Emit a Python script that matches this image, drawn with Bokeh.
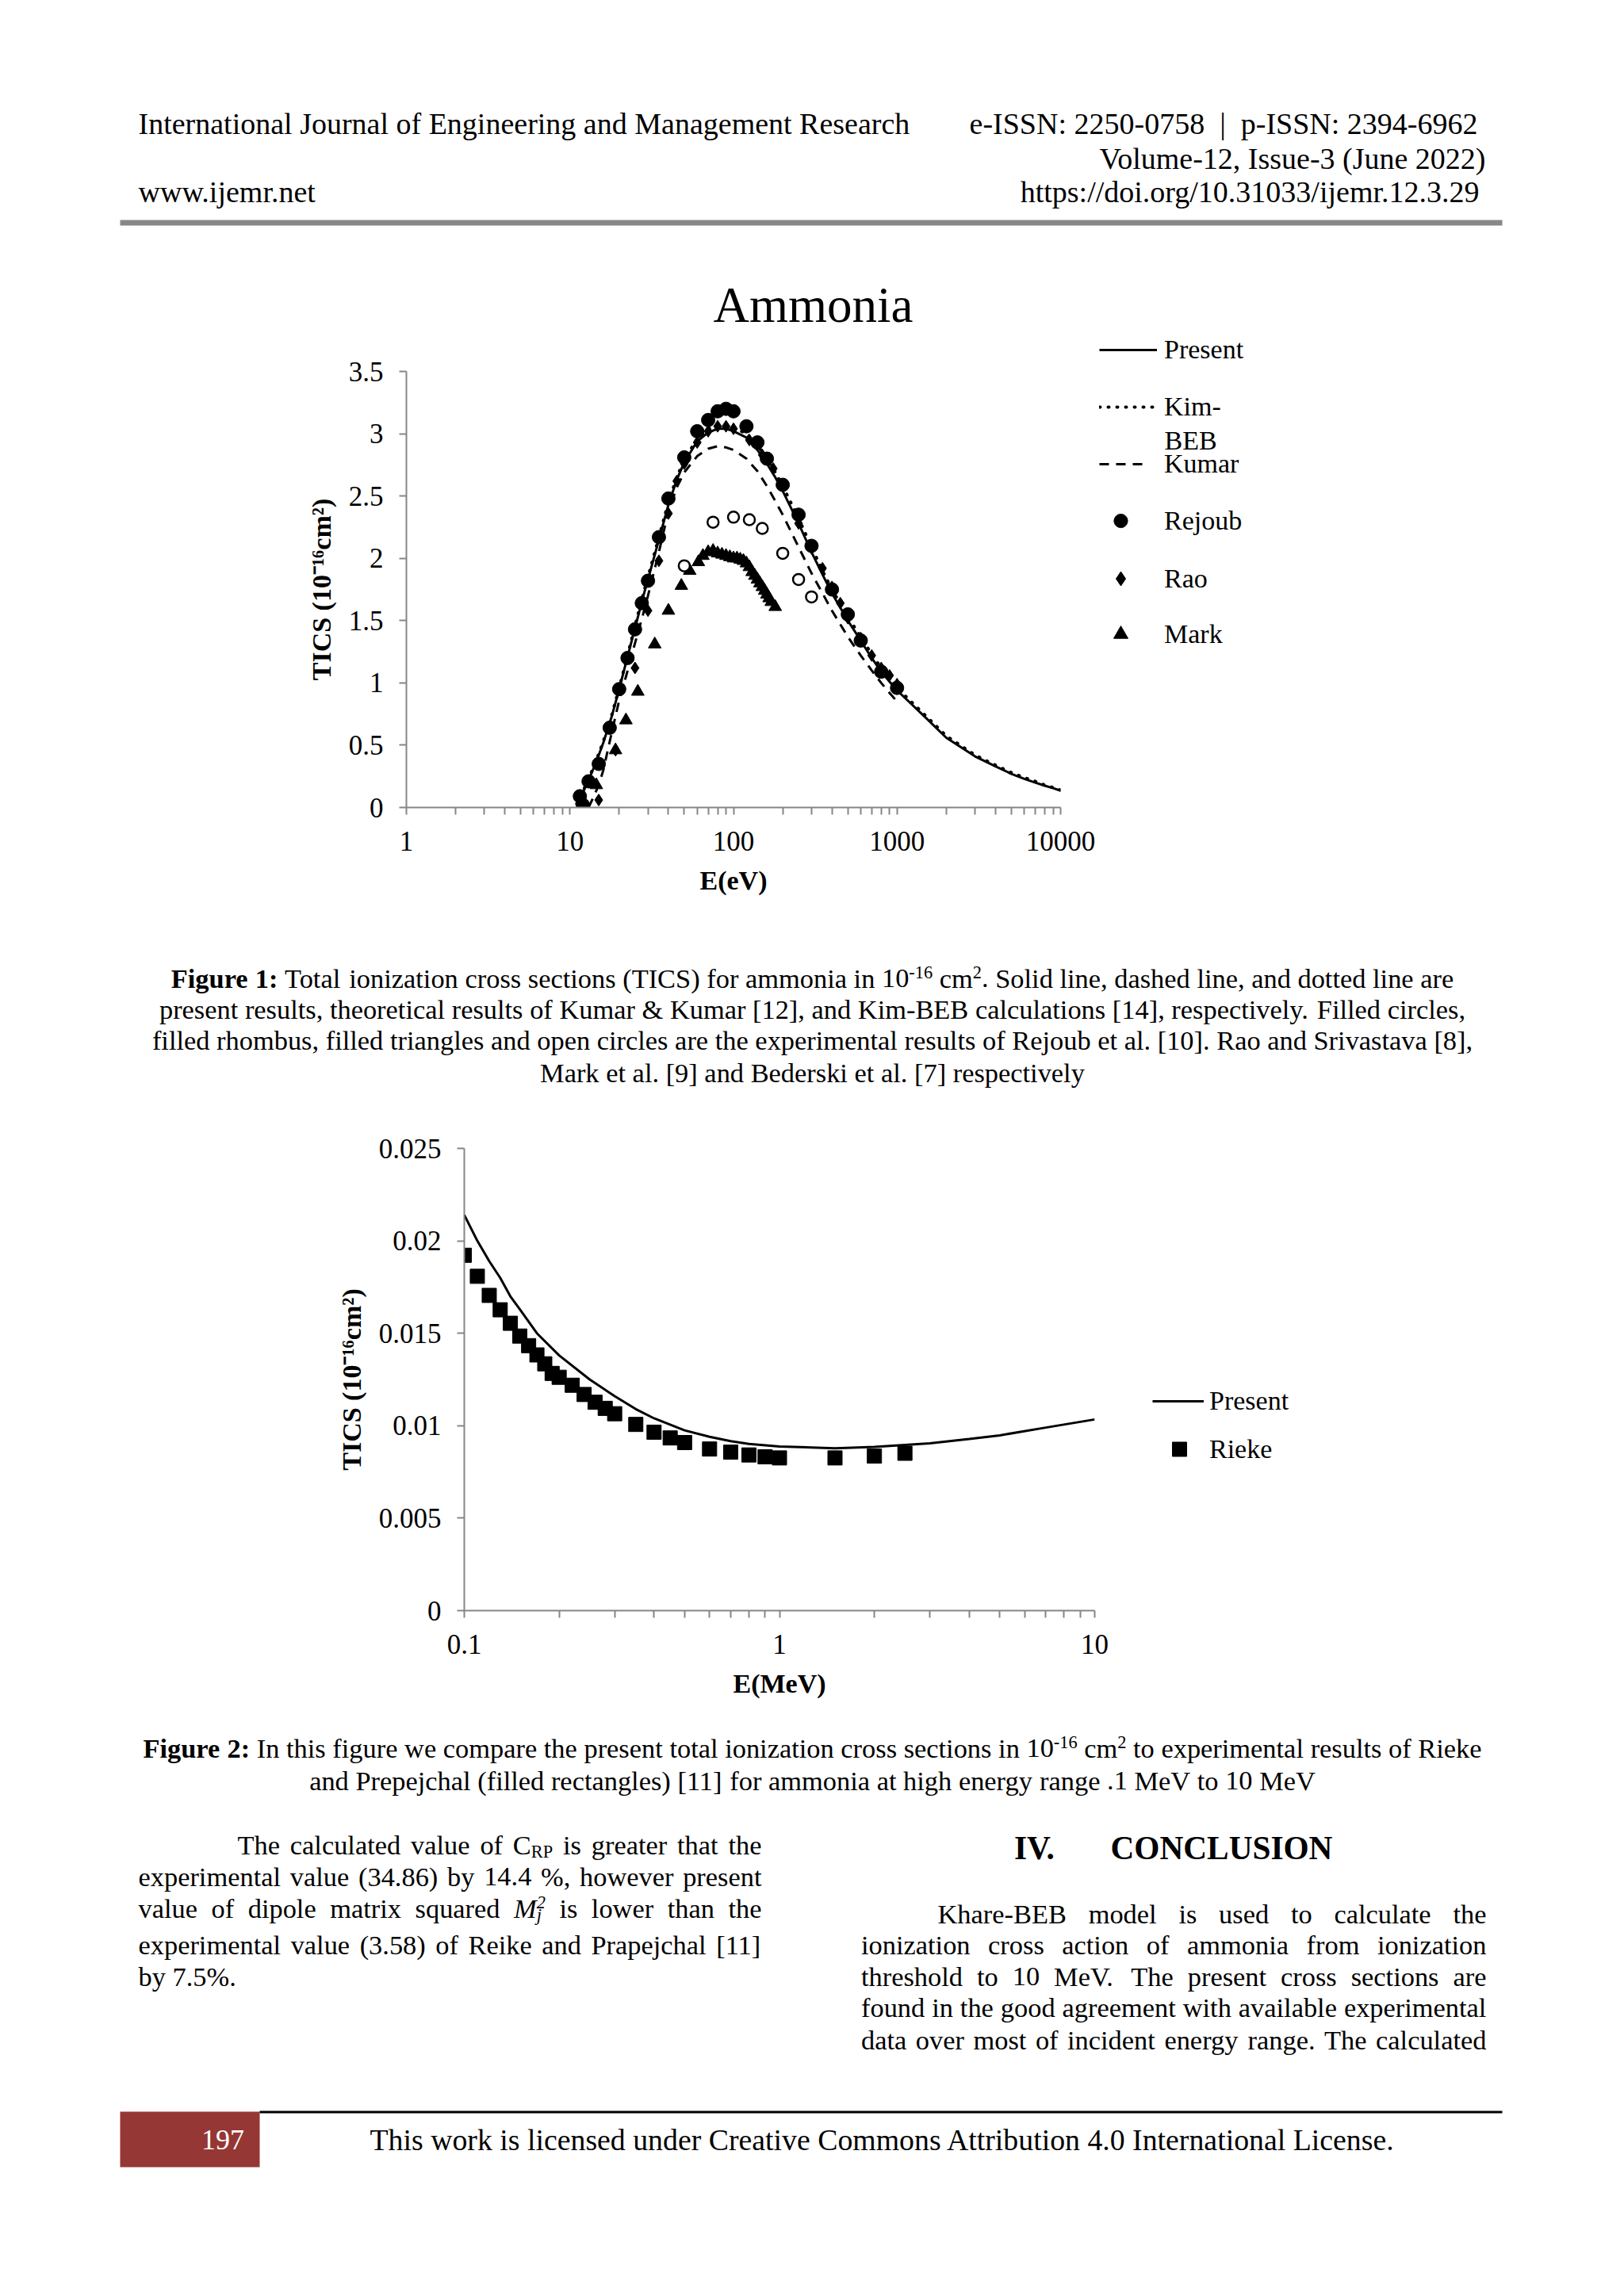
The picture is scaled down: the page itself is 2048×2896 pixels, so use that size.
from bokeh.plotting import figure
from bokeh.models import Range1d, FixedTicker, CustomJSTickFormatter, Legend, LegendItem
from bokeh.layouts import column, row
from bokeh.embed import file_html
from bokeh.resources import INLINE
from bokeh.core.properties import value

# ======================= chart data =======================
# Figure 1 : TICS of ammonia, E in eV
present_e = [11, 12, 13, 14, 15, 16, 18, 20, 22, 25, 28, 30, 35, 40, 45, 50, 60, 70, 80, 90, 100,
             120, 140, 160, 180, 200, 250, 300, 350, 400, 500, 600, 700, 800, 900, 1000,
             1500, 2000, 3000, 4000, 5000, 6000, 7000, 8000, 9000, 10000]
present_tics = [0.03, 0.12, 0.22, 0.32, 0.42, 0.52, 0.73, 0.95, 1.16, 1.44, 1.69, 1.83, 2.15, 2.43,
                2.63, 2.77, 2.94, 3.01, 3.04, 3.04, 3.02, 2.97, 2.87, 2.76, 2.65, 2.54, 2.28, 2.05,
                1.87, 1.72, 1.50, 1.34, 1.20, 1.09, 1.01, 0.94, 0.72, 0.56, 0.41, 0.33, 0.27, 0.23,
                0.20, 0.175, 0.155, 0.135]
kimbeb_e = present_e
kimbeb_tics = [0.03, 0.13, 0.23, 0.33, 0.43, 0.53, 0.74, 0.96, 1.17, 1.46, 1.71, 1.85, 2.17, 2.45,
               2.65, 2.79, 2.96, 3.04, 3.07, 3.07, 3.05, 3.00, 2.91, 2.80, 2.69, 2.58, 2.32, 2.09,
               1.90, 1.75, 1.53, 1.37, 1.23, 1.12, 1.03, 0.96, 0.735, 0.575, 0.42, 0.34, 0.28, 0.24,
               0.21, 0.18, 0.16, 0.14]
kumar_e = [13, 14, 15, 16, 18, 20, 22, 25, 28, 30, 35, 40, 45, 50, 60, 70, 80, 90, 100, 120, 140,
           160, 180, 200, 250, 300, 350, 400, 500, 600, 700, 800, 900, 1000]
kumar_tics = [0.0, 0.09, 0.18, 0.30, 0.60, 0.86, 1.05, 1.32, 1.55, 1.70, 2.05, 2.38, 2.57, 2.69,
              2.82, 2.88, 2.90, 2.89, 2.87, 2.80, 2.70, 2.58, 2.46, 2.35, 2.09, 1.88, 1.72, 1.58,
              1.37, 1.22, 1.10, 1.00, 0.92, 0.85]
rejoub_e = [11.5, 12, 13, 15, 17.5, 20, 22.5, 25, 27.5, 30, 35, 40, 50, 60, 70, 80, 90, 100, 120,
            140, 160, 200, 250, 300, 400, 500, 600, 800, 1000]
rejoub_tics = [0.09, 0.02, 0.21, 0.35, 0.64, 0.95, 1.20, 1.43, 1.64, 1.82, 2.17, 2.48, 2.81, 3.02,
               3.11, 3.18, 3.20, 3.18, 3.06, 2.93, 2.80, 2.59, 2.35, 2.10, 1.75, 1.55, 1.34, 1.09, 0.96]
rao_e = [15, 19, 25, 30, 35, 40, 45, 50, 60, 70, 80, 90, 100, 125, 150, 175, 200, 250, 300, 350,
         400, 450, 500, 600, 700, 800, 900, 1000]
rao_tics = [0.06, 0.46, 1.12, 1.58, 1.98, 2.36, 2.62, 2.76, 2.93, 3.02, 3.06, 3.06, 3.04, 2.95,
            2.83, 2.72, 2.58, 2.28, 2.08, 1.92, 1.77, 1.64, 1.52, 1.36, 1.22, 1.12, 1.06, 0.99]
mark_e = [14.5, 19, 22, 26, 33, 40, 48, 54, 61, 65, 70, 75, 80, 85, 90, 95, 100, 105, 110, 115,
          120, 125, 130, 135, 140, 145, 150, 155, 160, 165, 170, 180]
mark_tics = [0.18, 0.46, 0.70, 0.93, 1.31, 1.58, 1.78, 1.90, 1.97, 2.02, 2.05, 2.06, 2.04, 2.03,
             2.02, 2.01, 2.00, 2.00, 1.99, 1.98, 1.96, 1.93, 1.89, 1.86, 1.83, 1.80, 1.77, 1.74,
             1.71, 1.68, 1.65, 1.61]
bederski_e = [50, 75, 100, 125, 150, 200, 250, 300]
bederski_tics = [1.94, 2.29, 2.33, 2.31, 2.24, 2.04, 1.83, 1.69]
x1_ticks = [1, 10, 100, 1000, 10000]
x1_minor = [k * 10 ** d for d in range(4) for k in range(2, 10)]
y1_ticks = [0, 0.5, 1, 1.5, 2, 2.5, 3, 3.5]

# Figure 2 : high energy range, E in MeV
present2_e = [0.1, 0.11, 0.12, 0.13, 0.14, 0.15, 0.17, 0.2, 0.25, 0.3, 0.35, 0.4, 0.5, 0.6, 0.7,
              0.8, 1.0, 1.5, 2, 3, 4, 5, 7, 10]
present2_tics = [0.0214, 0.0200, 0.0189, 0.0180, 0.0170, 0.0163, 0.0150, 0.0138, 0.0125, 0.0116,
                 0.0109, 0.0104, 0.00975, 0.00940, 0.00917, 0.00902, 0.00888, 0.00878, 0.00886,
                 0.00905, 0.00928, 0.00948, 0.00990, 0.01034]
rieke_e = [0.1, 0.11, 0.12, 0.13, 0.14, 0.15, 0.16, 0.17, 0.18, 0.19, 0.2, 0.22, 0.24, 0.26, 0.28,
           0.3, 0.35, 0.4, 0.45, 0.5, 0.6, 0.7, 0.8, 0.9, 1.0, 1.5, 2.0, 2.5]
rieke_tics = [0.01922, 0.01808, 0.01705, 0.01627, 0.01554, 0.01485, 0.01433, 0.01383, 0.01335,
              0.01283, 0.01262, 0.01219, 0.01169, 0.01127, 0.01094, 0.01065, 0.01007, 0.00965,
              0.00934, 0.00909, 0.00874, 0.00857, 0.00842, 0.00832, 0.00826, 0.00826, 0.00836,
              0.00851]
x2_ticks = [0.1, 1, 10]
x2_minor = [round(k * 0.1, 2) for k in range(2, 10)] + list(range(2, 10))
y2_ticks = [0, 0.005, 0.01, 0.015, 0.02, 0.025]

# ======================= page / style =======================
FONT = "Liberation Serif"
PAGE_W = 2048
AXC = "#868686"
NAN = float("nan")

# Times / Liberation Serif advance widths (1/1000 em)
TR = {' ': 250, '!': 333, '"': 408, '#': 500, '$': 500, '%': 833, '&': 778, "'": 180, '(': 333,
      ')': 333, '*': 500, '+': 564, ',': 250, '-': 333, '.': 250, '/': 278, ':': 278, ';': 278,
      '<': 564, '=': 564, '>': 564, '?': 444, '@': 921, '[': 333, ']': 333, '|': 200}
for _c in "0123456789":
    TR[_c] = 500
TR.update(dict(A=722, B=667, C=667, D=722, E=611, F=556, G=722, H=722, I=333, J=389, K=722, L=611,
               M=889, N=722, O=722, P=556, Q=722, R=667, S=556, T=611, U=722, V=722, W=944, X=722,
               Y=722, Z=611, a=444, b=500, c=444, d=500, e=444, f=333, g=500, h=500, i=278, j=278,
               k=500, l=278, m=778, n=500, o=500, p=500, q=500, r=333, s=389, t=278, u=500, v=500,
               w=722, x=500, y=500, z=444))
TB = dict(TR)
TB.update({':': 333})
TB.update(dict(A=722, B=667, C=722, D=722, E=667, F=611, G=778, H=778, I=389, J=500, K=778, L=667,
               M=944, N=722, O=778, P=611, Q=778, R=722, S=556, T=667, U=722, V=722, W=1000,
               a=500, b=556, c=444, d=556, e=444, f=333, g=500, h=556, i=278, j=333, k=556, l=278,
               m=833, n=556, o=500, p=556, q=556, r=444, s=389, t=333, u=556, v=500, w=722))
TI = dict(TR)
TI.update(dict(M=833, j=278))
SCRIPT = 0.65
SCR = ('sup', 'sub', 'isup', 'isub')


def seg_w(t, k, fs):
    tbl = TB if k == 'b' else (TI if k in ('i', 'isub', 'isup') else TR)
    sc = SCRIPT if k in SCR else 1.0
    return sum(tbl.get(c, 500) for c in t) / 1000.0 * fs * sc


def tok_w(tok, fs):
    return sum(seg_w(t, k, fs) for (t, k, adv) in tok if adv)


def W(s):
    return [[(w, 'r', True)] for w in s.split()]


def B(s):
    return [[(w, 'b', True)] for w in s.split()]


class Batch:
    def __init__(self):
        self.d = {}

    def add(self, size, style, color, align, x, y, t, base="alphabetic"):
        key = (round(size, 2), style, color, align, base)
        xs, ys, ts = self.d.setdefault(key, ([], [], []))
        xs.append(x)
        ys.append(y)
        ts.append(t)

    def plain(self, t, x, y, size, align="left", style="normal", color="#000000", base="alphabetic"):
        self.add(size, style, color, align, x, y, t, base)

    def tokens(self, toks, x, y, fs, gap):
        for tok in toks:
            cx = x
            for (t, k, adv) in tok:
                size = fs * SCRIPT if k in SCR else fs
                style = 'bold' if k == 'b' else ('italic' if k in ('i', 'isub', 'isup') else 'normal')
                dy = -0.21 * fs if k in ('sup', 'isup') else (0.26 * fs if k in ('sub', 'isub') else 0)
                self.add(size, style, "#000000", "left", cx, y + dy, t)
                if adv:
                    cx += seg_w(t, k, fs)
            x = cx + gap

    def line(self, toks, y, fs, mode, x0, x1=None):
        tw = sum(tok_w(t, fs) for t in toks)
        sp = 0.25 * fs
        n = len(toks)
        if mode == "center":
            total = tw + sp * (n - 1)
            self.tokens(toks, x0 - total / 2, y, fs, sp)
        elif mode == "justify":
            gap = (x1 - x0 - tw) / (n - 1)
            self.tokens(toks, x0, y, fs, gap)
        else:
            self.tokens(toks, x0, y, fs, sp)

    def flush(self, f):
        for (size, style, color, align, base), (xs, ys, ts) in self.d.items():
            f.text(x=xs, y=ys, text=ts, text_font=value(FONT), text_font_size=f"{size}px",
                   text_font_style=style, text_color=color, text_align=align,
                   text_baseline=base)


def no_align(f):
    try:
        f.frame_align = False
    except Exception:
        pass
    return f


def text_fig(x0, y0, w, h):
    f = figure(width=w, height=h, x_range=Range1d(x0, x0 + w), y_range=Range1d(y0 + h, y0),
               x_axis_location=None, y_axis_location=None, toolbar_location=None, tools="",
               output_backend="svg", min_border=0, outline_line_color=None)
    f.grid.visible = False
    return no_align(f)


def style_axes(p, xticks, xminor, yticks, xlabel, ylabel):
    p.grid.visible = False
    p.xaxis.ticker = FixedTicker(ticks=xticks, minor_ticks=xminor)
    p.yaxis.ticker = FixedTicker(ticks=yticks, minor_ticks=[])
    for ax in (p.xaxis[0], p.yaxis[0]):
        ax.formatter = CustomJSTickFormatter(code="return tick.toString();")
        ax.axis_line_color = AXC
        ax.axis_line_width = 2
        ax.major_tick_line_color = AXC
        ax.major_tick_line_width = 2
        ax.major_tick_in = 0
        ax.major_tick_out = 9
        ax.minor_tick_line_color = AXC
        ax.minor_tick_line_width = 2
        ax.minor_tick_in = 0
        ax.minor_tick_out = 9
        ax.major_label_text_font = FONT
        ax.major_label_text_font_size = "35px"
        ax.major_label_text_color = "#000000"
        ax.axis_label_text_font = FONT
        ax.axis_label_text_font_size = "34px"
        ax.axis_label_text_font_style = "bold"
        ax.axis_label_text_color = "#000000"
    p.yaxis.minor_tick_line_color = None
    p.xaxis.major_label_standoff = 21
    p.yaxis.major_label_standoff = 20
    p.xaxis.axis_label_standoff = 16
    p.yaxis.axis_label_standoff = 13
    p.xaxis.axis_label = xlabel
    p.yaxis.axis_label = ylabel


def legend_item(f, fx0, band_end, r, label, px0, yc, gw, gh, standoff):
    lg = Legend(items=[LegendItem(label=label, renderers=[r])],
                location=(int(round(px0 - fx0)), int(round(band_end - (yc + gh / 2.0)))),
                orientation="vertical", padding=0, margin=0, spacing=0,
                glyph_width=int(gw), glyph_height=int(gh), label_height=int(gh),
                label_standoff=int(standoff),
                label_text_font=FONT, label_text_font_size="34px", label_text_color="#000000",
                label_text_baseline="middle", border_line_color=None, background_fill_alpha=0,
                inactive_fill_alpha=0)
    f.add_layout(lg)


YLAB = "TICS (10\u207b\u00b9\u2076cm\u00b2)"

# ----------------------------------------------------------- band A : header (y 0..420)
HA = 420
hdr = text_fig(0, 0, PAGE_W, HA)
b = Batch()
b.plain("International Journal of Engineering and Management Research", 174, 155, 38)
b.plain("e-ISSN: 2250-0758\u00a0 |\u00a0 p-ISSN: 2394-6962", 1863, 155, 38, align="right")
b.plain("Volume-12, Issue-3 (June 2022)", 1873, 199.5, 38, align="right")
b.plain("www.ijemr.net", 174, 241.5, 38)
b.plain("https://doi.org/10.31033/ijemr.12.3.29", 1865, 241.5, 38, align="right")
b.plain("Ammonia", 1025, 384, 63, align="center")
hdr.quad(left=[151], right=[1894], top=[277], bottom=[284], fill_color="#878787", line_color=None)
b.flush(hdr)

# ----------------------------------------------------------- band B : chart 1 (420..1158)
B1_Y0, B1_Y1 = HA, 1158
F1_L, F1_R, F1_T, F1_B = 512, 1337, 468, 1018
C1_W = 1384
p1 = figure(width=C1_W, height=B1_Y1 - B1_Y0, x_axis_type="log", x_range=Range1d(1, 10000),
            y_range=Range1d(0, 3.5), min_border_left=F1_L, min_border_right=C1_W - F1_R,
            min_border_top=F1_T - B1_Y0, min_border_bottom=B1_Y1 - F1_B, toolbar_location=None,
            tools="", output_backend="svg", outline_line_color=None)
no_align(p1)
style_axes(p1, x1_ticks, x1_minor, y1_ticks, "E(eV)", YLAB)
PRES = dict(line_color="black", line_width=3)
KIM = dict(line_color="black", line_width=4, line_dash="1 10", line_cap="round")
KUM = dict(line_color="black", line_width=3, line_dash="12 9")
REJ = dict(marker="circle", fill_color="black", line_color="black")
RAO = dict(marker="diamond", fill_color="black", line_color="black")
MRK = dict(marker="triangle", fill_color="black", line_color="black")
p1.line(present_e, present_tics, **PRES)
p1.line(kimbeb_e, kimbeb_tics, **KIM)
p1.line(kumar_e, kumar_tics, **KUM)
p1.scatter(rejoub_e, rejoub_tics, size=17, **REJ)
p1.scatter(rao_e, rao_tics, size=15, **RAO)
p1.scatter(mark_e, mark_tics, size=16, **MRK)
p1.scatter(bederski_e, bederski_tics, marker="circle", size=14, fill_color="white",
           line_color="black", line_width=2.5)

# legend panel for chart 1 (legend proxies carry no visible data)
L1 = text_fig(C1_W, B1_Y0, PAGE_W - C1_W, B1_Y1 - B1_Y0)
lr_pres = L1.line(x=[NAN], y=[NAN], **PRES)
lr_kim = L1.line(x=[NAN], y=[NAN], **KIM)
lr_kum = L1.line(x=[NAN], y=[NAN], **KUM)
lr_rej = L1.scatter(x=[NAN], y=[NAN], **REJ)
lr_rao = L1.scatter(x=[NAN], y=[NAN], **RAO)
lr_mrk = L1.scatter(x=[NAN], y=[NAN], **MRK)
GX = 1386
legend_item(L1, C1_W, B1_Y1, lr_pres, "Present", GX, 441, 73, 40, 9)
legend_item(L1, C1_W, B1_Y1, lr_kim, "Kim-", GX, 513, 71, 40, 11)
legend_item(L1, C1_W, B1_Y1, lr_kum, "Kumar", GX, 585, 60, 40, 22)
legend_item(L1, C1_W, B1_Y1, lr_rej, "Rejoub", GX, 657, 54, 43, 28)
legend_item(L1, C1_W, B1_Y1, lr_rao, "Rao", GX, 730, 54, 45, 28)
legend_item(L1, C1_W, B1_Y1, lr_mrk, "Mark", GX, 800, 54, 45, 28)
b = Batch()
b.plain("BEB", 1468, 555, 34, base="middle")
b.flush(L1)

# ----------------------------------------------------------- band C : caption 1 (1158..1428)
cap1 = text_fig(0, 1158, PAGE_W, 270)
b = Batch()
FS = 34.4
CX = 1024
sup16 = [("10", 'r', True), ("-16", 'sup', True)]
cm2 = [("cm", 'r', True), ("2", 'sup', True)]
b.line(B("Figure 1:") + W("Total ionization cross sections (TICS) for ammonia in") +
       [sup16, cm2 + [(".", 'r', True)]] + W("Solid line, dashed line, and dotted line are"),
       1233, FS, "center", CX)
b.line(W("present results, theoretical results of Kumar & Kumar [12], and Kim-BEB calculations "
         "[14], respectively. Filled circles,"), 1272.5, FS, "center", CX)
b.line(W("filled rhombus, filled triangles and open circles are the experimental results of "
         "Rejoub et al. [10]. Rao and Srivastava [8],"), 1311.5, FS, "center", CX)
b.line(W("Mark et al. [9] and Bederski et al. [7] respectively"), 1352, FS, "center", CX)
b.flush(cap1)

# ----------------------------------------------------------- band D : chart 2 (1428..2158)
B2_Y0, B2_Y1 = 1428, 2158
F2_L, F2_R, F2_T, F2_B = 585, 1380, 1448, 2031
C2_W = 1428
p2 = figure(width=C2_W, height=B2_Y1 - B2_Y0, x_axis_type="log", x_range=Range1d(0.1, 10),
            y_range=Range1d(0, 0.025), min_border_left=F2_L, min_border_right=C2_W - F2_R,
            min_border_top=F2_T - B2_Y0, min_border_bottom=B2_Y1 - F2_B, toolbar_location=None,
            tools="", output_backend="svg", outline_line_color=None)
no_align(p2)
style_axes(p2, x2_ticks, x2_minor, y2_ticks, "E(MeV)", YLAB)
RIE = dict(marker="square", fill_color="black", line_color="black")
p2.line(present2_e, present2_tics, **PRES)
p2.scatter(rieke_e, rieke_tics, size=18, **RIE)

L2 = text_fig(C2_W, B2_Y0, PAGE_W - C2_W, B2_Y1 - B2_Y0)
lr_pres2 = L2.line(x=[NAN], y=[NAN], **PRES)
lr_rie = L2.scatter(x=[NAN], y=[NAN], **RIE)
legend_item(L2, C2_W, B2_Y1, lr_pres2, "Present", 1453, 1767, 65, 40, 7)
legend_item(L2, C2_W, B2_Y1, lr_rie, "Rieke", 1453, 1828, 68, 45, 4)

# ----------------------------------------------------------- band E : caption 2, text, footer
BE_Y0 = 2158
bot = text_fig(0, BE_Y0, PAGE_W, 2896 - BE_Y0)
b = Batch()
b.line(B("Figure 2:") + W("In this figure we compare the present total ionization cross sections in") +
       [sup16, cm2] + W("to experimental results of  Rieke"), 2204.5, FS, "center", CX)
b.line(W("and Prepejchal (filled rectangles) [11] for ammonia at high energy range .1 MeV to 10 MeV"),
       2245, FS, "center", CX)
# left column
LX0, LX1 = 174, 960
b.line(W("The calculated value of") + [[("C", 'r', True), ("RP", 'sub', True)]] +
       W("is greater that the"), 2326, FS, "justify", 299, LX1)
b.line(W("experimental value (34.86) by 14.4 %, however present"), 2366, FS, "justify", LX0, LX1)
b.line(W("value of dipole matrix squared") +
       [[("M", 'i', True), ("j", 'isub', False), ("2", 'isup', True)]] +
       W("is lower than the"), 2406.5, FS, "justify", LX0, LX1)
b.line(W("experimental value (3.58) of Reike and Prapejchal [11]"), 2452, FS, "justify", LX0, LX1)
b.line(W("by 7.5%."), 2492, FS, "left", LX0)
# right column
RX0, RX1 = 1085.5, 1874
b.plain("IV.", 1278.5, 2330, 41.3, style="bold")
b.plain("CONCLUSION", 1400, 2330, 41.3, style="bold")
b.line(W("Khare-BEB model is used to calculate the"), 2413.5, FS, "justify", 1182, RX1)
b.line(W("ionization cross action of ammonia from ionization"), 2452, FS, "justify", RX0, RX1)
b.line(W("threshold to 10 MeV. The present cross sections are"), 2492, FS, "justify", RX0, RX1)
b.line(W("found in the good agreement with available experimental"), 2531.5, FS, "justify", RX0, RX1)
b.line(W("data over most of incident energy range. The calculated"), 2572, FS, "justify", RX0, RX1)
# footer
bot.quad(left=[151], right=[327], top=[2663], bottom=[2733], fill_color="#953735", line_color=None)
bot.quad(left=[327], right=[1894], top=[2662], bottom=[2665], fill_color="#000000",
         line_color=None)
b.plain("197", 253.5, 2698, 36, color="#ffffff")
b.plain("This work is licensed under Creative Commons Attribution 4.0 International License.",
        466, 2698, 37.8)
b.flush(bot)

page = column(hdr, row(p1, L1, spacing=0), cap1, row(p2, L2, spacing=0), bot, spacing=0)
open("out.html", "w").write(file_html(page, INLINE, title="Ammonia TICS"))
